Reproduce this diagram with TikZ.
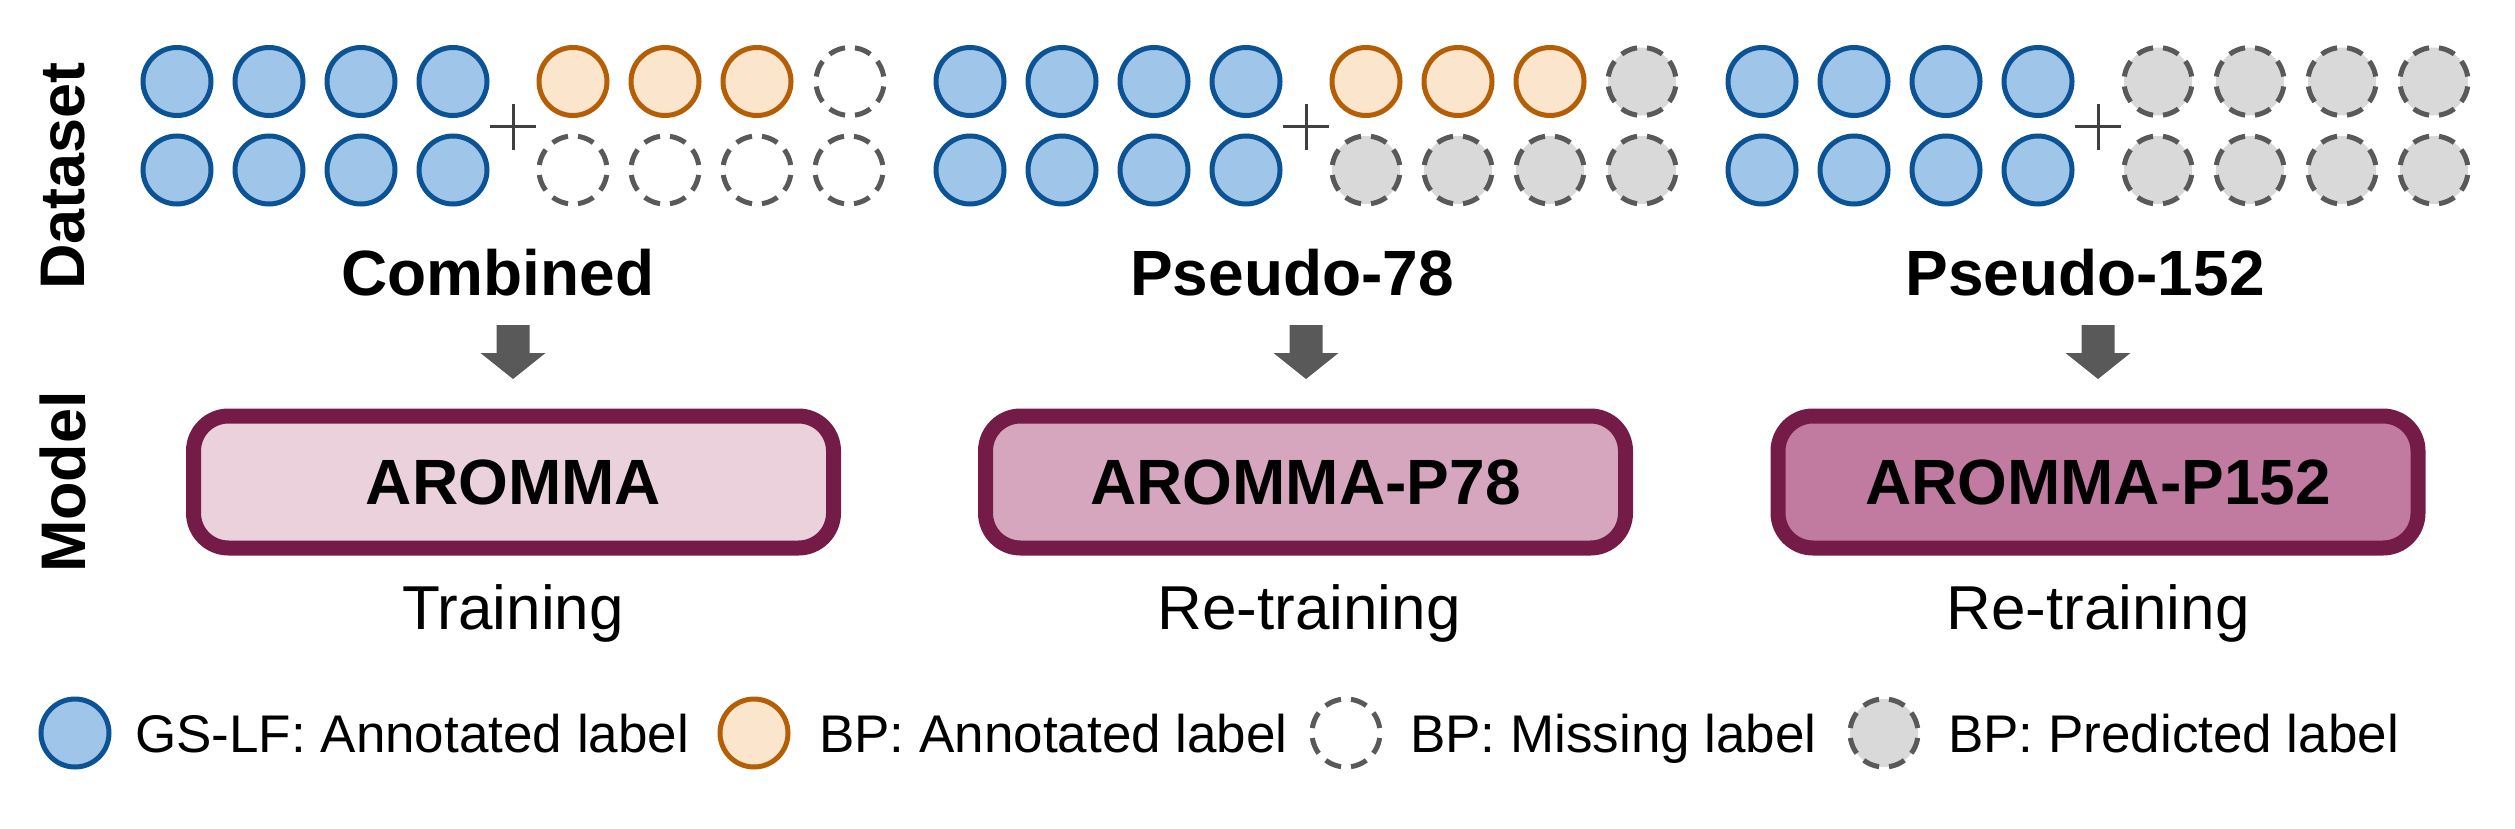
\documentclass[tikz,border=0pt]{standalone}
\usepackage{fontspec}
\setmainfont{Liberation Sans}
\definecolor{blueF}{HTML}{9FC5E8}
\definecolor{blueD}{HTML}{0B5394}
\definecolor{orF}{HTML}{FCE5CD}
\definecolor{orD}{HTML}{B45F06}
\definecolor{grF}{HTML}{D9D9D9}
\definecolor{grD}{HTML}{595959}
\definecolor{boxD}{HTML}{741B47}
\definecolor{boxA}{HTML}{EAD1DC}
\definecolor{boxB}{HTML}{D5A6BD}
\definecolor{boxC}{HTML}{C27BA0}
\definecolor{arrc}{HTML}{595959}
\definecolor{plusc}{HTML}{404040}
\begin{document}
\begin{tikzpicture}[x=1pt,y=-1pt,
  dot/.style={circle,minimum size=68pt,inner sep=0pt,line width=5pt},
  ann/.style={dot,draw=blueD,fill=blueF},
  bpa/.style={dot,draw=orD,fill=orF},
  miss/.style={dot,draw=grD,line width=5pt,dash pattern=on 16.7pt off 10pt,dash phase=21.7pt},
  pred/.style={miss,fill=grF},
  mbox/.style={rectangle,rounded corners=35pt,draw=boxD,line width=15pt,
    minimum width=640pt,minimum height=132pt,inner sep=0pt,
    font=\fontsize{64}{70}\selectfont\bfseries},
  dlabel/.style={anchor=base,inner sep=0pt,font=\fontsize{64}{70}\selectfont\bfseries},
  tlabel/.style={anchor=base,inner sep=0pt,font=\fontsize{62}{68}\selectfont},
  side/.style={rotate=90,inner sep=0pt,font=\fontsize{63}{70}\selectfont\bfseries},
  leg/.style={anchor=base west,inner sep=0pt,font=\fontsize{53}{60}\selectfont},
  pluss/.style={line width=3pt,draw=plusc},
  blk/.style={fill=arrc}
]
\useasboundingbox (0,0) rectangle (2515,829);

% side labels
\node[side] (dsl) at (63,176) {Dataset};
\node[side] (msl) at (63,482) {Model};

% panels: blue annotated circles
\foreach \p/\cx in {0/513,1/1306,2/2098}{
  \foreach \k in {0,1,2,3}{
    \node[ann] (p\p a\k) at ({\cx-60-92*\k},81.5) {};
    \node[ann] (p\p b\k) at ({\cx-60-92*\k},170) {};
  }
  \coordinate (plus\p) at (\cx,127);
  \draw[pluss] ([xshift=-23pt]plus\p) -- ([xshift=23pt]plus\p);
  \draw[pluss] ([yshift=23pt]plus\p) -- ([yshift=-23pt]plus\p);
  % block arrow
  \coordinate (ar\p) at (\cx,325);
  \fill[blk] ([xshift=-16.5pt]ar\p) -- ([xshift=16.5pt]ar\p)
     -- ([xshift=16.5pt,yshift=-28pt]ar\p) -- ([xshift=32.5pt,yshift=-28pt]ar\p)
     -- ([yshift=-54pt]ar\p) -- ([xshift=-32.5pt,yshift=-28pt]ar\p)
     -- ([xshift=-16.5pt,yshift=-28pt]ar\p) -- cycle;
}

% panel 0 right side
\foreach \k in {0,1,2}{ \node[bpa] (p0c\k) at ({573+92*\k},81.5) {}; }
\node[miss] (p0c3) at (850,81.5) {};
\foreach \k in {0,1,2,3}{ \node[miss] (p0d\k) at ({573+92*\k},170) {}; }

% panel 1 right side
\foreach \k in {0,1,2}{ \node[bpa] (p1c\k) at ({1366+92*\k},81.5) {}; }
\node[pred] (p1c3) at (1642,81.5) {};
\foreach \k in {0,1,2,3}{ \node[pred] (p1d\k) at ({1366+92*\k},170) {}; }

% panel 2 right side
\foreach \k in {0,1,2,3}{
  \node[pred] (p2c\k) at ({2158+92*\k},81.5) {};
  \node[pred] (p2d\k) at ({2158+92*\k},170) {};
}

% dataset labels
\node[dlabel] (l0) at (498,295) {Combined};
\node[dlabel] (l1) at (1292,295) {Pseudo-78};
\node[dlabel] (l2) at (2085,295) {Pseudo-152};

% model boxes
\node[mbox,fill=boxA] (m0) at (513.5,482) {AROMMA\hspace{14pt}};
\node[mbox,fill=boxB] (m1) at (1305.5,482) {AROMMA-P78};
\node[mbox,fill=boxC] (m2) at (2098,482) {AROMMA-P152\hspace{32pt}};

% training labels
\node[tlabel] (t0) at (513,629) {Training};
\node[tlabel] (t1) at (1309,629) {Re-training};
\node[tlabel] (t2) at (2098,629) {Re-training};

% legend
\node[ann] (g1) at (75,733) {};
\node[leg] (g1t) at (135,752) {GS-LF: Annotated label};
\node[bpa] (g2) at (754,733) {};
\node[leg] (g2t) at (819,752) {BP: Annotated label};
\node[miss] (g3) at (1346,733) {};
\node[leg] (g3t) at (1410,752) {BP: Missing label};
\node[pred] (g4) at (1884,733) {};
\node[leg] (g4t) at (1948,752) {BP: Predicted label};
\end{tikzpicture}
\end{document}
